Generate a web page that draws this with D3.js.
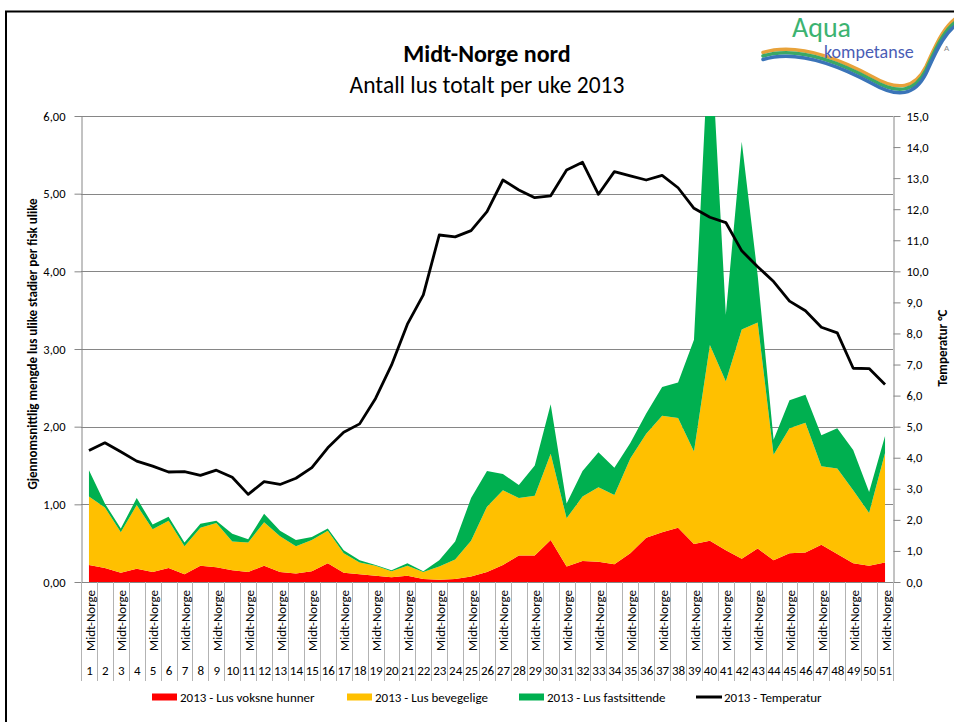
<!DOCTYPE html>
<html>
<head>
<meta charset="utf-8">
<script src="https://cdn.jsdelivr.net/npm/d3@7"></script>
<style>
	body { margin: 0; background: #fff; }
	svg { display: block; font-family: Carlito, Calibri, Lato, sans-serif; }
</style>
</head>
<body>
<div id="chart"></div>
<script>
// week numbers (outer category level) and region (inner level)
var weeks = d3.range(1, 52).map(String);
var region = "Midt-Norge";

// 2013 - Lus voksne hunner
var voksneHunner = [0.22, 0.18, 0.12, 0.17, 0.13, 0.18, 0.10, 0.21, 0.19, 0.15,
	0.13, 0.21, 0.13, 0.11, 0.14, 0.24, 0.12, 0.10, 0.08, 0.06,
	0.08, 0.04, 0.03, 0.04, 0.07, 0.13, 0.22, 0.34, 0.34, 0.54,
	0.20, 0.27, 0.26, 0.23, 0.37, 0.57, 0.64, 0.70, 0.49, 0.53,
	0.41, 0.30, 0.43, 0.28, 0.37, 0.38, 0.48, 0.36, 0.24, 0.21, 0.25];

// 2013 - Lus bevegelige
var bevegelige = [0.88, 0.78, 0.52, 0.82, 0.55, 0.61, 0.36, 0.49, 0.57, 0.37,
	0.38, 0.56, 0.46, 0.35, 0.40, 0.42, 0.25, 0.15, 0.13, 0.08,
	0.13, 0.09, 0.17, 0.25, 0.46, 0.84, 0.96, 0.74, 0.77, 1.11,
	0.62, 0.83, 0.96, 0.89, 1.22, 1.34, 1.50, 1.41, 1.19, 2.52,
	2.17, 2.95, 2.91, 1.36, 1.61, 1.67, 1.01, 1.10, 0.94, 0.68, 1.41];

// 2013 - Lus fastsittende
var fastsittende = [0.34, 0.05, 0.05, 0.09, 0.06, 0.05, 0.05, 0.05, 0.03, 0.10,
	0.04, 0.11, 0.07, 0.08, 0.04, 0.03, 0.04, 0.03, 0.01, 0.01,
	0.03, 0.01, 0.08, 0.23, 0.55, 0.46, 0.21, 0.17, 0.39, 0.64,
	0.19, 0.33, 0.45, 0.35, 0.20, 0.26, 0.37, 0.46, 1.44, 4.20,
	0.86, 2.42, 0.61, 0.19, 0.36, 0.36, 0.40, 0.52, 0.52, 0.27, 0.22];

// 2013 - Temperatur (°C, right axis)
var temperatur = [4.23, 4.48, 4.19, 3.89, 3.73, 3.54, 3.55, 3.43, 3.60, 3.37,
	2.82, 3.23, 3.14, 3.34, 3.68, 4.32, 4.82, 5.09, 5.91, 6.98,
	8.30, 9.24, 11.17, 11.11, 11.31, 11.92, 12.94, 12.62, 12.37, 12.43,
	13.26, 13.51, 12.48, 13.21, 13.07, 12.94, 13.09, 12.69, 12.03, 11.74,
	11.57, 10.66, 10.15, 9.67, 9.04, 8.73, 8.20, 8.02, 6.88, 6.87, 6.36];

var leftTicks = [0, 1, 2, 3, 4, 5, 6];
var rightTicks = d3.range(0, 16);
var seriesKeys = ["voksne", "bevegelige", "fastsittende"];
var seriesNames = ["2013 - Lus voksne hunner", "2013 - Lus bevegelige", "2013 - Lus fastsittende", "2013 - Temperatur"];
var seriesColors = ["#ff0000", "#ffc000", "#00b050", "#000000"];

var chartWidth = 954,
	chartHeight = 722,
	plot = { left: 81, right: 893, top: 116, bottom: 582 },
	axisColor = "#868686";

var rows = weeks.map(function(w, i) {
	return { week: w, voksne: voksneHunner[i], bevegelige: bevegelige[i], fastsittende: fastsittende[i], temp: temperatur[i] };
});

var x = d3.scaleBand().domain(weeks).range([plot.left, plot.right]).padding(0),
	y = d3.scaleLinear().domain([0, 6]).range([plot.bottom, plot.top]),
	yT = d3.scaleLinear().domain([0, 15]).range([plot.bottom, plot.top]);

function cx(w) { return x(w) + x.bandwidth() / 2; }
function comma(fmt) { return function(d) { return d3.format(fmt)(d).replace(".", ","); }; }

var svg = d3.select("#chart").append("svg")
	.attr("width", chartWidth)
	.attr("height", chartHeight);

// outer frame
svg.append("rect")
	.attr("x", 6).attr("y", 11.5)
	.attr("width", 1000).attr("height", 1000)
	.attr("fill", "none").attr("stroke", "#000").attr("stroke-width", 2);

// logo
var logo = svg.append("g").attr("class", "logo");
var swoosh = "M763,56 C795,46 835,60 872,80 C898,95 915,92 926,70 C936,48 945,26 962,18";
[["#e8a23a", -3.5], ["#3aa866", 0], ["#3a74b8", 3.5]].forEach(function(b) {
	logo.append("path")
		.attr("d", swoosh)
		.attr("transform", "translate(0," + b[1] + ")")
		.attr("fill", "none")
		.attr("stroke", b[0])
		.attr("stroke-width", 3.5)
		.attr("stroke-linecap", "round");
});
logo.append("text").attr("x", 792).attr("y", 37)
	.attr("fill", "#3cb371").style("font-size", "28px").style("font-weight", 300)
	.text("Aqua");
logo.append("text").attr("x", 824).attr("y", 58)
	.attr("fill", "#4a5db5").style("font-size", "18px")
	.text("kompetanse");
logo.append("text").attr("x", 944).attr("y", 51)
	.attr("fill", "#888").style("font-size", "9px")
	.text("A");

// titles
svg.append("text")
	.attr("x", 487).attr("y", 62)
	.attr("text-anchor", "middle")
	.style("font-size", "24px").style("font-weight", "bold")
	.text("Midt-Norge nord");
svg.append("text")
	.attr("x", 487).attr("y", 93)
	.attr("text-anchor", "middle")
	.style("font-size", "23.5px")
	.text("Antall lus totalt per uke 2013");

// gridlines
svg.append("g")
	.selectAll("line")
	.data(leftTicks)
	.join("line")
		.attr("x1", plot.left).attr("x2", plot.right)
		.attr("y1", function(d) { return Math.round(y(d)) + 0.5; })
		.attr("y2", function(d) { return Math.round(y(d)) + 0.5; })
		.attr("stroke", axisColor);

// stacked areas
var stacked = d3.stack().keys(seriesKeys)(rows);

svg.append("clipPath").attr("id", "plotclip")
	.append("rect")
	.attr("x", plot.left).attr("y", plot.top)
	.attr("width", plot.right - plot.left).attr("height", plot.bottom - plot.top);

var area = d3.area()
	.x(function(d) { return cx(d.data.week); })
	.y0(function(d) { return y(d[0]); })
	.y1(function(d) { return y(d[1]); });

svg.append("g")
	.attr("clip-path", "url(#plotclip)")
	.selectAll("path")
	.data(stacked)
	.join("path")
		.attr("fill", function(d, i) { return seriesColors[i]; })
		.attr("d", area);

// temperature line
svg.append("path")
	.datum(rows)
	.attr("fill", "none")
	.attr("stroke", "#000")
	.attr("stroke-width", 2.8)
	.attr("stroke-linejoin", "round")
	.attr("d", d3.line()
		.x(function(d) { return cx(d.week); })
		.y(function(d) { return yT(d.temp); }));

// left axis
var leftAxis = svg.append("g")
	.attr("transform", "translate(" + (plot.left + 0.5) + ",0)")
	.call(d3.axisLeft(y).tickValues(leftTicks).tickFormat(comma(".2f")).tickSizeInner(7).tickSizeOuter(0).tickPadding(9));
// right axis
var rightAxis = svg.append("g")
	.attr("transform", "translate(" + (plot.right + 0.5) + ",0)")
	.call(d3.axisRight(yT).tickValues(rightTicks).tickFormat(comma(".1f")).tickSizeInner(7).tickSizeOuter(0).tickPadding(6));

[leftAxis, rightAxis].forEach(function(g) {
	g.select(".domain").attr("stroke", axisColor);
	g.selectAll(".tick line").attr("stroke", axisColor);
	g.selectAll(".tick text")
		.attr("fill", "#000")
		.style("font-size", "12.5px")
		.style("font-family", "Carlito, Calibri, Lato, sans-serif");
});

// axis titles
svg.append("text")
	.attr("transform", "translate(37," + 344 + ") rotate(-90)")
	.attr("text-anchor", "middle")
	.style("font-size", "13px").style("font-weight", "bold")
	.text("Gjennomsnittlig mengde lus ulike stadier per fisk ulike");
svg.append("text")
	.attr("transform", "translate(947," + 348 + ") rotate(-90)")
	.attr("text-anchor", "middle")
	.style("font-size", "13px").style("font-weight", "bold")
	.text("Temperatur °C");

// category axis (two levels, boxed)
var catAxis = svg.append("g").attr("class", "axis-x");
var bounds = weeks.map(function(w) { return x(w); }).concat([plot.right]);

catAxis.append("line")
	.attr("x1", plot.left).attr("x2", plot.right)
	.attr("y1", plot.bottom + 0.5).attr("y2", plot.bottom + 0.5)
	.attr("stroke", axisColor);
catAxis.selectAll("line.sep")
	.data(bounds)
	.join("line")
		.attr("class", "sep")
		.attr("x1", function(d) { return Math.round(d) + 0.5; })
		.attr("x2", function(d) { return Math.round(d) + 0.5; })
		.attr("y1", plot.bottom).attr("y2", 681)
		.attr("stroke", "#b3b3b3");

catAxis.selectAll("text.region")
	.data(weeks.filter(function(w, i) { return i % 2 === 0; }))
	.join("text")
		.attr("class", "region")
		.attr("transform", function(w) { return "translate(" + (cx(w) + 1) + ",590) rotate(-90)"; })
		.attr("text-anchor", "end")
		.attr("dy", "0.35em")
		.style("font-size", "13px")
		.text(region);

catAxis.selectAll("text.week")
	.data(weeks)
	.join("text")
		.attr("class", "week")
		.attr("x", function(w) { return cx(w) + 0.5; })
		.attr("y", 675)
		.attr("text-anchor", "middle")
		.style("font-size", "13px")
		.text(function(w) { return w; });

// legend
var legendX = [152, 347, 519, 696];
var legend = svg.append("g").attr("class", "legend");
var item = legend.selectAll("g")
	.data(seriesNames)
	.join("g")
		.attr("transform", function(d, i) { return "translate(" + legendX[i] + ",697)"; });

item.filter(function(d, i) { return i < 3; })
	.append("rect")
		.attr("x", 0).attr("y", -3.5)
		.attr("width", 25).attr("height", 7)
		.attr("fill", function(d, i) { return seriesColors[i]; });
item.filter(function(d, i) { return i === 3; })
	.append("line")
		.attr("x1", 0).attr("x2", 26)
		.attr("stroke", "#000").attr("stroke-width", 3);
item.append("text")
	.attr("x", 28)
	.attr("dy", "0.35em")
	.style("font-size", "13px")
	.text(function(d) { return d; });
</script>
</body>
</html>
